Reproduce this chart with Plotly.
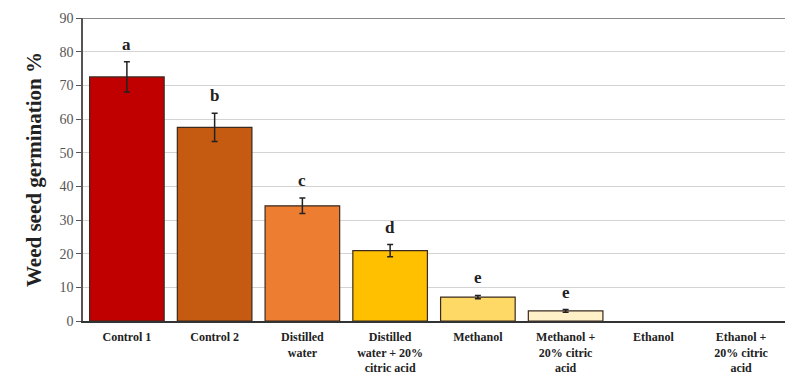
import plotly.graph_objects as go

categories = ["Control 1", "Control 2", "Distilled<br>water", "Distilled<br>water + 20%<br>citric acid",
              "Methanol", "Methanol +<br>20% citric<br>acid", "Ethanol", "Ethanol +<br>20% citric<br>acid"]
germination = [72.5, 57.5, 34.2, 20.9, 7.1, 3.0, 0, 0]
std_err = [4.5, 4.2, 2.3, 1.8, 0.5, 0.4, 0, 0]
letters = ["a", "b", "c", "d", "e", "e", "", ""]
bar_colors = ["#C00000", "#C55A11", "#ED7D31", "#FFC000", "#FFD966", "#FFF0C8", "#FFFFFF", "#FFFFFF"]
y_ticks = list(range(0, 91, 10))

# zero-height bars get no outline and no error cap
outline_widths = [1.2 if v > 0 else 0 for v in germination]
tick_text = [f"<b>{c}</b>" for c in categories]
nonzero = [i for i, v in enumerate(germination) if v > 0]

fig = go.Figure()
fig.add_trace(go.Bar(
    x=categories, y=germination,
    marker=dict(color=bar_colors, line=dict(color="#3a2a20", width=outline_widths)),
    width=0.85,
    showlegend=False,
))
fig.add_trace(go.Scatter(
    x=[categories[i] for i in nonzero], y=[germination[i] for i in nonzero],
    mode="markers", marker=dict(size=1, opacity=0),
    error_y=dict(type="data", array=[std_err[i] for i in nonzero], visible=True,
                 color="#222222", thickness=1.5, width=3),
    showlegend=False, hoverinfo="skip",
))

for cat, val, err, lab in zip(categories, germination, std_err, letters):
    if lab:
        fig.add_annotation(x=cat, y=val + err, text=f"<b>{lab}</b>", showarrow=False,
                           yanchor="bottom", yshift=6,
                           font=dict(family="Liberation Serif", size=17, color="#222222"))

fig.add_shape(type="line", xref="paper", yref="y", x0=0, x1=1, y0=90, y1=90,
              line=dict(color="#8a8a8a", width=2))

fig.update_layout(
    width=785, height=379,
    margin=dict(l=83, r=0, t=18, b=58),
    paper_bgcolor="white", plot_bgcolor="white",
    bargap=0.15,
    xaxis=dict(
        showline=True, linecolor="#333333", linewidth=1.5,
        tickvals=categories, ticktext=tick_text,
        tickfont=dict(family="Liberation Serif", size=12, color="#222222"),
        ticks="outside", ticklen=4, tickcolor="rgba(0,0,0,0)", showgrid=False,
    ),
    yaxis=dict(
        range=[0, 90], tickvals=y_ticks, showline=True, linecolor="#555555", linewidth=1.5,
        ticks="outside", ticklen=5, tickcolor="#555555",
        gridcolor="#d4d4d4", gridwidth=1.2,
        tickfont=dict(family="Liberation Serif", size=14, color="#555555"),
        title=dict(text="<b>Weed seed germination %</b>", standoff=12,
                   font=dict(family="Liberation Serif", size=21, color="#222222")),
    ),
)
fig.update_xaxes(tickangle=0)

fig.write_html("out.html")
